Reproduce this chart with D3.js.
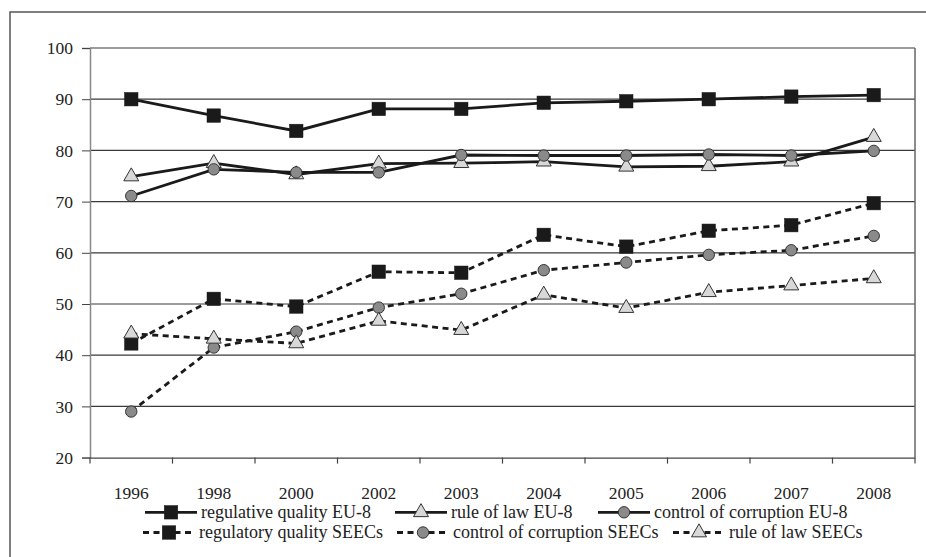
<!DOCTYPE html>
<html><head><meta charset="utf-8">
<script src="https://cdn.jsdelivr.net/npm/d3@7"></script>
<style>
html,body{margin:0;padding:0;background:#fff;}
svg{display:block;font-family:"Liberation Serif","Times New Roman",serif;}
</style></head>
<body>
<svg id="chart" width="926" height="557"></svg>
<script>
const years = ["1996","1998","2000","2002","2003","2004","2005","2006","2007","2008"];
const yTicks = [20,30,40,50,60,70,80,90,100];

const regulativeQualityEU8 = [90.0,86.8,83.8,88.1,88.1,89.3,89.6,90.0,90.5,90.8];
const ruleOfLawEU8         = [74.9,77.5,75.3,77.4,77.5,77.8,76.8,76.9,77.8,82.6];
const corruptionEU8        = [71.1,76.3,75.7,75.7,79.1,79.0,79.0,79.2,79.0,79.9];
const regulatoryQualitySEE = [42.3,51.0,49.5,56.3,56.1,63.5,61.2,64.3,65.4,69.7];
const corruptionSEE        = [29.0,41.5,44.6,49.3,52.0,56.6,58.1,59.6,60.5,63.3];
const ruleOfLawSEE         = [44.2,43.2,42.3,46.7,44.9,51.8,49.2,52.3,53.6,55.0];

const seriesNames = ["regulative quality EU-8","rule of law EU-8","control of corruption EU-8",
                     "regulatory quality SEECs","control of corruption SEECs","rule of law SEECs"];

const series = [
  {name: seriesNames[0], values: regulativeQualityEU8, marker: "square", dashed: false},
  {name: seriesNames[1], values: ruleOfLawEU8, marker: "triangle", dashed: false},
  {name: seriesNames[2], values: corruptionEU8, marker: "circle", dashed: false},
  {name: seriesNames[3], values: regulatoryQualitySEE, marker: "square", dashed: true},
  {name: seriesNames[4], values: corruptionSEE, marker: "circle", dashed: true},
  {name: seriesNames[5], values: ruleOfLawSEE, marker: "triangle", dashed: true}
];

const svg = d3.select("#chart");
const W = 926, H = 557;
const m = {left: 90, right: 11, top: 48, bottom: 99.4};
const x = d3.scaleBand().domain(years).range([m.left, W - m.right]);
const y = d3.scaleLinear().domain([20, 100]).range([H - m.bottom, m.top]);
const FONT = "Liberation Serif, Times New Roman, serif";

// outer frame (clipped at right/bottom)
svg.append("rect").attr("x", 10).attr("y", 12).attr("width", 930).attr("height", 560)
  .attr("fill", "none").attr("stroke", "#555").attr("stroke-width", 1.5);

// gridlines
svg.append("g").selectAll("line").data(yTicks.filter(d => d > 20)).join("line")
  .attr("x1", m.left).attr("x2", W - m.right)
  .attr("y1", d => y(d)).attr("y2", d => y(d))
  .attr("stroke", "#3a3a3a").attr("stroke-width", 1.2);

// right border
svg.append("line").attr("x1", W - m.right).attr("x2", W - m.right)
  .attr("y1", m.top).attr("y2", y(20)).attr("stroke", "#666").attr("stroke-width", 1.5);

// y axis
const yAxis = svg.append("g").attr("transform", `translate(${m.left},0)`)
  .call(d3.axisLeft(y).tickValues(yTicks).tickSize(8).tickPadding(9));
yAxis.select(".domain").attr("stroke", "#888").attr("stroke-width", 1.5);
yAxis.selectAll(".tick line").attr("stroke", "#444");
yAxis.selectAll("text").attr("font-size", "17.5px").attr("fill", "#222")
  .attr("font-family", FONT);

// x axis
const xAxis = svg.append("g").attr("transform", `translate(0,${y(20)})`)
  .call(d3.axisBottom(x).tickSize(0).tickPadding(29));
xAxis.select(".domain").attr("stroke", "#444").attr("stroke-width", 1.3);
xAxis.selectAll("text").attr("font-size", "17.5px").attr("fill", "#222")
  .attr("font-family", FONT);
// category boundary ticks
const bounds = years.map(yr => x(yr)).concat([x(years[years.length-1]) + x.bandwidth()]);
svg.append("g").selectAll("line").data(bounds).join("line")
  .attr("x1", d => d).attr("x2", d => d)
  .attr("y1", y(20)).attr("y2", y(20) + 6)
  .attr("stroke", "#444").attr("stroke-width", 1.2);

function drawMarker(g, type, cx, cy, scale) {
  const s = scale || 1;
  if (type === "square") {
    const a = 13.5 * s;
    g.append("rect").attr("x", cx - a/2).attr("y", cy - a/2).attr("width", a).attr("height", a)
      .attr("fill", "#1a1a1a").attr("stroke", "#1a1a1a").attr("stroke-width", 0.5);
  } else if (type === "circle") {
    g.append("circle").attr("cx", cx).attr("cy", cy).attr("r", 5.7 * s)
      .attr("fill", "#8a8a8a").attr("stroke", "#333").attr("stroke-width", 1);
  } else {
    const side = 15 * s, h = side * Math.sqrt(3) / 2;
    const p = [[cx, cy - 2*h/3], [cx + side/2, cy + h/3], [cx - side/2, cy + h/3]];
    g.append("path").attr("d", "M" + p.map(q => q.join(",")).join("L") + "Z")
      .attr("fill", "#d8d8d8").attr("stroke", "#333").attr("stroke-width", 1);
  }
}

const cx = d => x(d) + x.bandwidth() / 2;
const line = d3.line().x(d => cx(d.year)).y(d => y(d.v));

// draw order: dashed first then solid
const order = [3, 4, 5, 1, 2, 0];
order.forEach(i => {
  const s = series[i];
  const pts = s.values.map((v, k) => ({year: years[k], v}));
  const g = svg.append("g");
  g.append("path").datum(pts).attr("d", line).attr("fill", "none")
    .attr("stroke", "#1a1a1a").attr("stroke-width", 2.8)
    .attr("stroke-dasharray", s.dashed ? "6,4.5" : null);
  pts.forEach(p => drawMarker(g, s.marker, cx(p.year), y(p.v)));
});

// legend
const legendRows = [
  [{s: 0, x: 145}, {s: 1, x: 395}, {s: 2, x: 598}],
  [{s: 3, x: 143}, {s: 4, x: 397}, {s: 5, x: 673}]
];
const rowY = [512.3, 532.5];
legendRows.forEach((row, r) => {
  row.forEach(item => {
    const s = series[item.s];
    const g = svg.append("g");
    const ly = rowY[r];
    g.append("line").attr("x1", item.x).attr("x2", item.x + 52).attr("y1", ly).attr("y2", ly)
      .attr("stroke", "#1a1a1a").attr("stroke-width", 2.8)
      .attr("stroke-dasharray", s.dashed ? "6,4.5" : null);
    drawMarker(g, s.marker, item.x + 26, ly, 1);
    g.append("text").attr("x", item.x + 56).attr("y", ly + 5.5)
      .attr("font-size", "18px").attr("font-family", FONT).attr("fill", "#222").text(s.name);
  });
});
</script>
</body></html>
